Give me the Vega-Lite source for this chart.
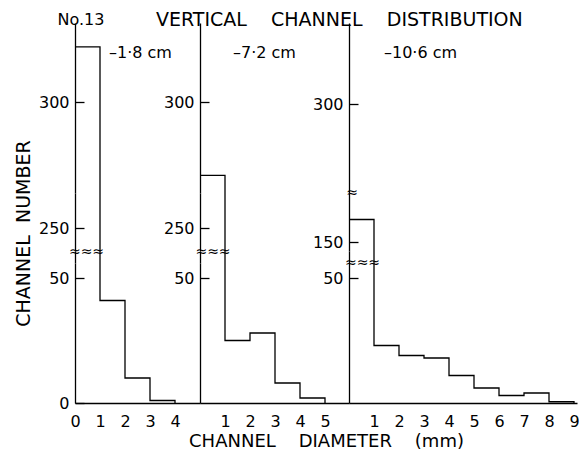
{
  "$schema": "https://vega.github.io/schema/vega-lite/v6.json",
  "background": "white",
  "padding": {"left": 13, "top": 10, "right": 0, "bottom": 0},
  "config": {
    "view": {"stroke": null},
    "font": "DejaVu Sans",
    "axis": {"grid": false, "domainColor": "black", "domainWidth": 1.3, "tickColor": "black", "tickWidth": 1.3, "labelColor": "black", "labelFont": "DejaVu Sans", "labelFontSize": 16, "titleFont": "DejaVu Sans", "titleFontSize": 19, "titleFontWeight": "normal", "titleColor": "black"},
    "axisY": {"tickSize": -9, "labelPadding": 15},
    "axisX": {"ticks": false, "labelPadding": 10, "labelFlush": false, "labelOverlap": false},
    "text": {"font": "DejaVu Sans", "fontSize": 16, "color": "black"}
  },
  "datasets": {
    "p1": [{"d": 0, "n": 322}, {"d": 1, "n": 41}, {"d": 2, "n": 10}, {"d": 3, "n": 1}, {"d": 4, "n": 0}],
    "p2": [{"d": 0, "n": 271}, {"d": 1, "n": 25}, {"d": 2, "n": 28}, {"d": 3, "n": 8}, {"d": 4, "n": 2}, {"d": 5, "n": 0}],
    "p3": [{"d": 0, "n": 159}, {"d": 1, "n": 23}, {"d": 2, "n": 19}, {"d": 3, "n": 18}, {"d": 4, "n": 11}, {"d": 5, "n": 6}, {"d": 6, "n": 3}, {"d": 7, "n": 4}, {"d": 8, "n": 0.5}, {"d": 9, "n": 0}]
  },
  "columns": 3,
  "spacing": 0,
  "bounds": "flush",
  "concat": [
    {
      "width": 125, "height": 170,
      "layer": [
        {"data": {"name": "p1"},
         "mark": {"type": "line", "interpolate": "step-after", "clip": true, "color": "black", "strokeWidth": 1.3},
         "encoding": {
           "x": {"field": "d", "type": "quantitative", "scale": {"domain": [0, 5], "nice": false}, "axis": null},
           "y": {"field": "n", "type": "quantitative", "scale": {"domain": [264, 331.5], "nice": false, "zero": false}, "axis": {"values": [300], "title": null}}
         }},
        {"data": {"values": [{}]}, "mark": {"type": "text", "align": "center", "baseline": "middle"},
         "encoding": {"x": {"datum": 0.24}, "y": {"datum": 332.7}, "text": {"value": "No.13"}}},
        {"data": {"values": [{}]}, "mark": {"type": "text", "align": "left", "baseline": "middle", "fontSize": 19},
         "encoding": {"x": {"datum": 3.24}, "y": {"datum": 332.7}, "text": {"value": "VERTICAL \u00a0\u00a0\u00a0CHANNEL \u00a0\u00a0\u00a0DISTRIBUTION"}}},
        {"data": {"values": [{}]}, "mark": {"type": "text", "align": "left", "baseline": "middle"},
         "encoding": {"x": {"datum": 1.36}, "y": {"datum": 319.6}, "text": {"value": "–1·8 cm"}}}
      ]
    },
    {
      "width": 149, "height": 170,
      "layer": [
        {"data": {"name": "p2"},
         "mark": {"type": "line", "interpolate": "step-after", "clip": true, "color": "black", "strokeWidth": 1.3},
         "encoding": {
           "x": {"field": "d", "type": "quantitative", "scale": {"domain": [0, 5.96], "nice": false}, "axis": null},
           "y": {"field": "n", "type": "quantitative", "scale": {"domain": [264, 331.5], "nice": false, "zero": false}, "axis": {"values": [300], "title": null}}
         }},
        {"data": {"values": [{}]}, "mark": {"type": "text", "align": "left", "baseline": "middle"},
         "encoding": {"x": {"datum": 1.32}, "y": {"datum": 319.6}, "text": {"value": "–7·2 cm"}}}
      ]
    },
    {
      "width": 228, "height": 170,
      "layer": [
        {"data": {"name": "p3"},
         "mark": {"type": "line", "interpolate": "step-after", "clip": true, "color": "black", "strokeWidth": 1.3},
         "encoding": {
           "x": {"field": "d", "type": "quantitative", "scale": {"domain": [0, 9.12], "nice": false}, "axis": null},
           "y": {"field": "n", "type": "quantitative", "scale": {"domain": [265, 332], "nice": false, "zero": false}, "axis": {"values": [300], "title": null}}
         }},
        {"data": {"values": [{}]}, "mark": {"type": "text", "align": "left", "baseline": "middle"},
         "encoding": {"x": {"datum": 1.4}, "y": {"datum": 320.2}, "text": {"value": "–10·6 cm"}}}
      ]
    },
    {
      "width": 125, "height": 58,
      "layer": [
        {"data": {"name": "p1"},
         "mark": {"type": "line", "interpolate": "step-after", "clip": true, "color": "black", "strokeWidth": 1.3},
         "encoding": {
           "x": {"field": "d", "type": "quantitative", "scale": {"domain": [0, 5], "nice": false}, "axis": null},
           "y": {"field": "n", "type": "quantitative", "scale": {"domain": [241, 264], "nice": false, "zero": false}, "axis": {"values": [250], "title": null}}
         }}
      ]
    },
    {
      "width": 149, "height": 58,
      "layer": [
        {"data": {"name": "p2"},
         "mark": {"type": "line", "interpolate": "step-after", "clip": true, "color": "black", "strokeWidth": 1.3},
         "encoding": {
           "x": {"field": "d", "type": "quantitative", "scale": {"domain": [0, 5.96], "nice": false}, "axis": null},
           "y": {"field": "n", "type": "quantitative", "scale": {"domain": [241, 264], "nice": false, "zero": false}, "axis": {"values": [250], "title": null}}
         }}
      ]
    },
    {
      "width": 228, "height": 58,
      "layer": [
        {"data": {"name": "p3"},
         "mark": {"type": "line", "interpolate": "step-after", "clip": true, "color": "black", "strokeWidth": 1.3},
         "encoding": {
           "x": {"field": "d", "type": "quantitative", "scale": {"domain": [0, 9.12], "nice": false}, "axis": null},
           "y": {"field": "n", "type": "quantitative", "scale": {"domain": [146.4, 169.6], "nice": false, "zero": false}, "axis": {"values": [150], "title": null}}
         }},
        {"data": {"values": [{}]}, "mark": {"type": "text", "align": "center", "baseline": "middle", "fontSize": 14},
         "encoding": {"x": {"datum": 0.12}, "y": {"datum": 169.8}, "text": {"value": "≈"}}}
      ]
    },
    {
      "width": 125, "height": 12,
      "layer": [
        {"data": {"name": "p1"},
         "mark": {"type": "line", "interpolate": "step-after", "clip": true, "color": "black", "strokeWidth": 1.3},
         "encoding": {
           "x": {"field": "d", "type": "quantitative", "scale": {"domain": [0, 5], "nice": false}, "axis": null},
           "y": {"field": "n", "type": "quantitative", "scale": {"domain": [56, 60.8], "nice": false, "zero": false}, "axis": {"ticks": false, "labels": false, "title": "CHANNEL \u00a0NUMBER", "titleX": -52, "titleY": -18, "titleAngle": -90, "titleAlign": "center", "titleBaseline": "middle"}}
         }},
        {"data": {"values": [{}]}, "mark": {"type": "text", "align": "center", "baseline": "middle", "fontSize": 14},
         "encoding": {"x": {"datum": 0.46}, "y": {"datum": 60.4}, "text": {"value": "≈≈≈"}}}
      ]
    },
    {
      "width": 149, "height": 12,
      "layer": [
        {"data": {"name": "p2"},
         "mark": {"type": "line", "interpolate": "step-after", "clip": true, "color": "black", "strokeWidth": 1.3},
         "encoding": {
           "x": {"field": "d", "type": "quantitative", "scale": {"domain": [0, 5.96], "nice": false}, "axis": null},
           "y": {"field": "n", "type": "quantitative", "scale": {"domain": [56, 60.8], "nice": false, "zero": false}, "axis": {"ticks": false, "labels": false, "title": null}}
         }},
        {"data": {"values": [{}]}, "mark": {"type": "text", "align": "center", "baseline": "middle", "fontSize": 14},
         "encoding": {"x": {"datum": 0.52}, "y": {"datum": 60.4}, "text": {"value": "≈≈≈"}}}
      ]
    },
    {
      "width": 228, "height": 12,
      "layer": [
        {"data": {"name": "p3"},
         "mark": {"type": "line", "interpolate": "step-after", "clip": true, "color": "black", "strokeWidth": 1.3},
         "encoding": {
           "x": {"field": "d", "type": "quantitative", "scale": {"domain": [0, 9.12], "nice": false}, "axis": null},
           "y": {"field": "n", "type": "quantitative", "scale": {"domain": [141.6, 146.4], "nice": false, "zero": false}, "axis": {"ticks": false, "labels": false, "title": null}}
         }}
      ]
    },
    {
      "width": 125, "height": 140,
      "layer": [
        {"data": {"name": "p1"},
         "mark": {"type": "line", "interpolate": "step-after", "clip": true, "color": "black", "strokeWidth": 1.3},
         "encoding": {
           "x": {"field": "d", "type": "quantitative", "scale": {"domain": [0, 5], "nice": false}, "axis": {"values": [0, 1, 2, 3, 4], "tickCount": 20, "format": "d", "title": null, "labelOverlap": false}},
           "y": {"field": "n", "type": "quantitative", "scale": {"domain": [0, 56], "nice": false}, "axis": {"values": [0, 50], "title": null}}
         }}
      ]
    },
    {
      "width": 149, "height": 140,
      "layer": [
        {"data": {"name": "p2"},
         "mark": {"type": "line", "interpolate": "step-after", "clip": true, "color": "black", "strokeWidth": 1.3},
         "encoding": {
           "x": {"field": "d", "type": "quantitative", "scale": {"domain": [0, 5.96], "nice": false}, "axis": {"values": [1, 2, 3, 4, 5], "tickCount": 20, "format": "d", "labelOverlap": false, "title": "CHANNEL \u00a0\u00a0\u00a0DIAMETER \u00a0\u00a0\u00a0(mm)", "titleFontSize": 18, "titleX": 126, "titleY": 38, "titleAlign": "center", "titleBaseline": "middle"}},
           "y": {"field": "n", "type": "quantitative", "scale": {"domain": [0, 56], "nice": false}, "axis": {"values": [50], "title": null}}
         }}
      ]
    },
    {
      "width": 228, "height": 140,
      "layer": [
        {"data": {"name": "p3"},
         "mark": {"type": "line", "interpolate": "step-after", "clip": true, "color": "black", "strokeWidth": 1.3},
         "encoding": {
           "x": {"field": "d", "type": "quantitative", "scale": {"domain": [0, 9.12], "nice": false}, "axis": {"values": [1, 2, 3, 4, 5, 6, 7, 8, 9], "tickCount": 20, "format": "d", "labelOverlap": false, "title": null}},
           "y": {"field": "n", "type": "quantitative", "scale": {"domain": [0, 56], "nice": false}, "axis": {"values": [50], "title": null}}
         }},
        {"data": {"values": [{}]}, "mark": {"type": "text", "align": "center", "baseline": "middle", "fontSize": 14},
         "encoding": {"x": {"datum": 0.54}, "y": {"datum": 56}, "text": {"value": "≈≈≈"}}}
      ]
    }
  ]
}
